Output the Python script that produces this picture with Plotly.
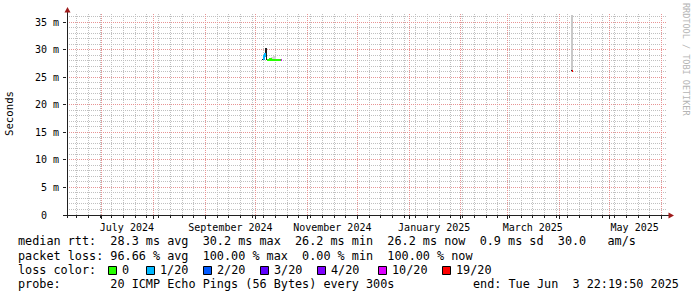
import plotly.graph_objects as go
from datetime import datetime, timedelta

# ---------------- data ----------------
range_start = "2024-06-10 03:00"
range_end = "2025-06-04 08:00"

month_ticks = ["2024-07-01", "2024-08-01", "2024-09-01", "2024-10-01", "2024-11-01", "2024-12-01",
               "2025-01-01", "2025-02-01", "2025-03-01", "2025-04-01", "2025-05-01", "2025-06-01"]
month_labels = ["July 2024", "", "September 2024", "", "November 2024", "", "January 2025", "",
                "March 2025", "", "May 2025", ""]
week_tick0 = "2024-06-09"

y_ticks = [0, 5, 10, 15, 20, 25, 30, 35]
y_labels = ["0\u00a0\u00a0", "5 m", "10 m", "15 m", "20 m", "25 m", "30 m", "35 m"]

# median rtt (ms) per 12h step, and pings lost out of 20
med_time = ["2024-10-05 00:00", "2024-10-05 12:00", "2024-10-06 00:00", "2024-10-06 12:00",
            "2024-10-07 00:00", "2024-10-07 12:00", "2024-10-08 00:00", "2024-10-08 12:00",
            "2024-10-09 00:00", "2024-10-09 12:00", "2024-10-10 00:00", "2024-10-10 12:00",
            "2024-10-11 00:00", "2024-10-11 12:00", "2024-10-12 00:00", "2024-10-12 12:00",
            "2024-10-13 00:00", "2024-10-13 12:00", "2024-10-14 00:00", "2024-10-14 12:00",
            "2024-10-15 00:00", "2024-10-15 12:00", "2024-10-16 00:00", "2024-10-16 12:00",
            "2025-04-07 18:00", "2025-04-08 06:00", "2025-04-08 18:00"]
med_ms = [28.3, 28.3, 28.9, 29.3,
          30.2, 28.2, 28.2, 28.2,
          28.2, 28.3, 28.2, 28.2,
          28.2, 28.2, 28.2, 28.2,
          28.2, 28.2, 28.2, 28.2,
          28.2, 28.2, 28.2, 28.2,
          26.3, 26.2, 26.2]
med_loss = [20, 1, 1, 1,
            20, 20, 0, 0,
            0, 0, 0, 0,
            0, 0, 0, 0,
            0, 0, 0, 0,
            0, 0, 10, 10,
            20, 19, 19]

smoke_time = ["2024-10-11 00:00", "2024-10-12 00:00", "2024-10-13 00:00", "2025-04-08 12:00"]
smoke_low = [28.3, 28.3, 28.3, 26.3]
smoke_high = [28.8, 28.9, 28.7, 36.4]

loss_buckets = [0, 1, 2, 3, 4, 10, 19]
loss_labels = ["0", "1/20", "2/20", "3/20", "4/20", "10/20", "19/20"]
loss_colors = ["#26ff00", "#00b8ff", "#0059ff", "#5e00ff", "#7e00ff", "#dd00ff", "#ff0000"]

rtt_values = [28.3, 30.2, 26.2, 26.2, 0.9]
rtt_names = ["avg", "max", "min", "now", "sd"]
am_s = 30.0
loss_values = [96.66, 100.00, 0.00, 100.00]
loss_names = ["avg", "max", "min", "now"]
probe_text = "20 ICMP Echo Pings (56 Bytes) every 300s"
end_text = "Tue Jun  3 22:19:50 2025"

# ---------------- styles / layout ----------------
STEP = timedelta(hours=12)
MAJOR = "#e89494"
MINOR = "#c0c0c0"
AXIS = "#202020"
ARROW = "#9e1a1a"
MONO = "DejaVu Sans Mono"
L, T, W, H = 67, 14, 600, 201
Y_TOP = H / 5.503
smoke_width_days = [1, 1, 1, 0.55]
smoke_colors = ["#d6d6d6", "#d6d6d6", "#d6d6d6", "#c8c8c8"]
box_x = [108, 146, 203, 260, 317, 378, 442]
grid_dash = "1px,1px"


def px(x):
    return (x - L) / W


def py(y):
    return (T + H - y) / H


steps = [(datetime.fromisoformat(t), v, l) for t, v, l in zip(med_time, med_ms, med_loss)]


def bucket_of(l):
    if l >= 20:
        return None
    b = None
    for k in loss_buckets:
        if l >= k:
            b = k
    return b


def run_xy(items):
    runs = []
    for t, v in items:
        if runs and runs[-1][-1][0] + STEP == t:
            runs[-1].append((t, v))
        else:
            runs.append([(t, v)])
    xs, ys = [], []
    for r in runs:
        xs += [t for t, _ in r] + [r[-1][0] + STEP, None]
        ys += [v for _, v in r] + [r[-1][1], None]
    return xs, ys


fig = go.Figure()

# smoke (on the minor-grid axes)
fig.add_trace(go.Bar(
    x=smoke_time,
    y=[h - l for h, l in zip(smoke_high, smoke_low)],
    base=smoke_low,
    width=[d * 86400000 for d in smoke_width_days],
    marker=dict(color=smoke_colors, line=dict(width=0)),
    hoverinfo="skip", xaxis="x", yaxis="y",
))

# black median line
bx, by = run_xy([(t, v) for t, v, _ in steps])
fig.add_trace(go.Scatter(x=bx, y=by, mode="lines", line=dict(color=AXIS, width=1, shape="hv"),
                         hoverinfo="skip", xaxis="x2", yaxis="y2"))

# loss-coloured median
for b, col in zip(loss_buckets, loss_colors):
    items = [(t, v) for t, v, l in steps if bucket_of(l) == b]
    if not items:
        continue
    cx, cy = run_xy(items)
    fig.add_trace(go.Scatter(x=cx, y=cy, mode="lines", line=dict(color=col, width=2, shape="hv"),
                             hoverinfo="skip", xaxis="x2", yaxis="y2"))

minor_y = [v for v in range(1, int(Y_TOP) + 1) if v % 5 != 0]

fig.update_layout(
    width=697, height=297,
    margin=dict(l=L, r=697 - L - W, t=T, b=297 - T - H),
    paper_bgcolor="white", plot_bgcolor="white",
    showlegend=False, barmode="overlay", bargap=0,
    xaxis=dict(  # weekly minor grid
        type="date", range=[range_start, range_end],
        tickmode="linear", tick0=week_tick0, dtick=7 * 86400000,
        showticklabels=False,
        showgrid=True, gridcolor=MINOR, griddash=grid_dash, gridwidth=1,
        ticks="outside", ticklen=2, tickcolor=AXIS, tickwidth=1,
        showline=False, zeroline=False, fixedrange=True,
    ),
    xaxis2=dict(  # monthly major grid + labels
        type="date", range=[range_start, range_end], overlaying="x", anchor="y", side="bottom",
        tickmode="array", tickvals=month_ticks, ticktext=month_labels, ticklabelshift=25,
        showgrid=True, gridcolor=MAJOR, griddash=grid_dash, gridwidth=1,
        ticks="outside", ticklen=3, tickcolor=AXIS, tickwidth=1,
        tickfont=dict(family=MONO, size=10, color="black"),
        showline=False, zeroline=False, fixedrange=True,
    ),
    yaxis=dict(  # 1 ms minor grid
        range=[0, Y_TOP], tickmode="array", tickvals=minor_y, showticklabels=False,
        showgrid=True, gridcolor=MINOR, griddash=grid_dash, gridwidth=1,
        ticks="", showline=False, zeroline=False, fixedrange=True,
    ),
    yaxis2=dict(  # 5 ms major grid + labels
        range=[0, Y_TOP], overlaying="y", anchor="x", side="left",
        tickmode="array", tickvals=y_ticks, ticktext=y_labels,
        showgrid=True, gridcolor=MAJOR, griddash=grid_dash, gridwidth=1,
        ticks="outside", ticklen=3, tickcolor=AXIS, tickwidth=1, ticklabelstandoff=2,
        tickfont=dict(family=MONO, size=10, color="black"),
        showline=False, zeroline=False, fixedrange=True,
    ),
)

shapes = [
    # axes
    dict(type="line", xref="paper", yref="paper", x0=px(67.5), x1=px(67.5), y0=py(218), y1=py(11),
         line=dict(color=AXIS, width=1)),
    dict(type="line", xref="paper", yref="paper", x0=px(63), x1=px(670), y0=py(215.5), y1=py(215.5),
         line=dict(color=AXIS, width=1)),
    # arrows
    dict(type="path", xref="paper", yref="paper",
         path=f"M {px(67.5)},{py(7)} L {px(64.5)},{py(12.5)} L {px(70.5)},{py(12.5)} Z",
         fillcolor=ARROW, line=dict(width=0)),
    dict(type="path", xref="paper", yref="paper",
         path=f"M {px(674)},{py(215.5)} L {px(668.5)},{py(212.5)} L {px(668.5)},{py(218.5)} Z",
         fillcolor=ARROW, line=dict(width=0)),
]
for bxp, col in zip(box_x, loss_colors):
    shapes.append(dict(type="rect", xref="paper", yref="paper",
                       x0=px(bxp + 0.5), x1=px(bxp + 8.5), y0=py(274.5), y1=py(266.5),
                       fillcolor=col, line=dict(color="black", width=1)))

NB = "\u00a0"


def nb(s):
    return s.replace(" ", NB)


line1 = "median rtt:  " + "  ".join(f"{v:.1f} ms {n}" for v, n in zip(rtt_values, rtt_names)) + f"  {am_s:.1f}   am/s"
line2 = "packet loss: " + "  ".join(f"{v:.2f} % {n}" for v, n in zip(loss_values, loss_names))
line4 = "probe:       " + probe_text

ann = []
legend_font = dict(family=MONO, size=11.8, color="black")
for txt, yc in [(line1, 241), (line2, 255.5), ("loss color:", 270), (line4, 284)]:
    ann.append(dict(text=nb(txt), xref="paper", yref="paper", x=px(16), y=py(yc),
                    xanchor="left", yanchor="middle", showarrow=False, font=legend_font))
for bxp, lab in zip(box_x, loss_labels):
    ann.append(dict(text=lab, xref="paper", yref="paper", x=px(bxp + 12), y=py(270),
                    xanchor="left", yanchor="middle", showarrow=False, font=legend_font))
ann.append(dict(text=nb("end: " + end_text), xref="paper", yref="paper", x=px(681), y=py(284),
                xanchor="right", yanchor="middle", showarrow=False, font=legend_font))
ann.append(dict(text="Seconds", xref="paper", yref="paper", x=px(10), y=py(114),
                xanchor="center", yanchor="middle", textangle=-90, showarrow=False,
                font=dict(family=MONO, size=10.7, color="black")))
ann.append(dict(text=nb("RRDTOOL / TOBI OETIKER"), xref="paper", yref="paper", x=px(686), y=py(59),
                xanchor="center", yanchor="middle", textangle=90, showarrow=False,
                font=dict(family=MONO, size=8.5, color="#b4b4b4")))

fig.update_layout(shapes=shapes, annotations=ann)

# render grid, ticks and data lines pixel-crisp like the rrdtool original
crisp_css = (
    "var s=document.createElement('style');"
    "s.textContent='.js-plotly-plot .gridlayer path, .js-plotly-plot .xtick, .js-plotly-plot .ytick,"
    " .js-plotly-plot .scatterlayer path, .js-plotly-plot .barlayer path"
    " {shape-rendering:crispEdges !important;}';"
    "document.head.appendChild(s);"
)
fig.write_html("out.html", post_script=crisp_css)
